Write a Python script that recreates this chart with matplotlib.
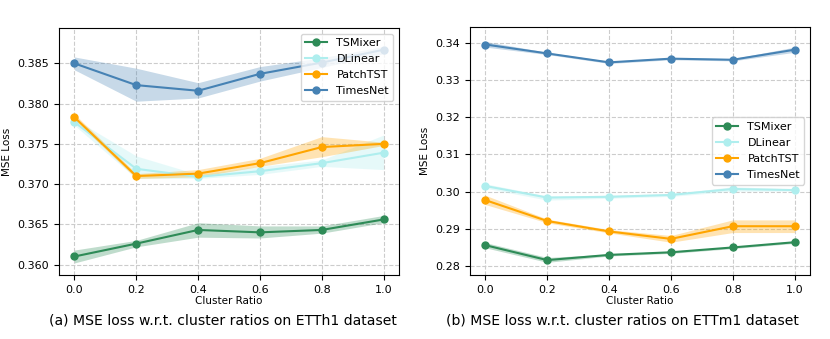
import matplotlib
matplotlib.use("Agg")
import matplotlib.pyplot as plt
import numpy as np

ratios = [0.0, 0.2, 0.4, 0.6, 0.8, 1.0]
models = ["TSMixer", "DLinear", "PatchTST", "TimesNet"]
colors = ["#2e8b57", "#afeeee", "#ffa500", "#4682b4"]

# ETTh1
etth1_tsmixer = [0.3610, 0.3626, 0.3643, 0.3640, 0.3643, 0.3656]
etth1_tsmixer_lo = [0.3602, 0.3622, 0.3634, 0.3633, 0.3639, 0.3652]
etth1_tsmixer_hi = [0.3618, 0.3630, 0.3652, 0.3648, 0.3648, 0.3661]
etth1_dlinear = [0.3777, 0.3719, 0.3709, 0.3716, 0.3726, 0.3739]
etth1_dlinear_lo = [0.3773, 0.3707, 0.3707, 0.3712, 0.3722, 0.3718]
etth1_dlinear_hi = [0.3781, 0.3735, 0.3712, 0.3722, 0.3730, 0.3761]
etth1_patchtst = [0.3783, 0.3710, 0.3713, 0.3726, 0.3746, 0.3750]
etth1_patchtst_lo = [0.3780, 0.3707, 0.3709, 0.3722, 0.3734, 0.3748]
etth1_patchtst_hi = [0.3787, 0.3713, 0.3718, 0.3732, 0.3759, 0.3752]
etth1_timesnet = [0.3850, 0.3823, 0.3816, 0.3837, 0.3851, 0.3867]
etth1_timesnet_lo = [0.3842, 0.3803, 0.3807, 0.3828, 0.3845, 0.3862]
etth1_timesnet_hi = [0.3858, 0.3844, 0.3826, 0.3846, 0.3857, 0.3871]

# ETTm1
ettm1_tsmixer = [0.2856, 0.2816, 0.2830, 0.2837, 0.2850, 0.2864]
ettm1_tsmixer_lo = [0.2849, 0.2810, 0.2827, 0.2834, 0.2847, 0.2861]
ettm1_tsmixer_hi = [0.2863, 0.2823, 0.2832, 0.2840, 0.2852, 0.2867]
ettm1_dlinear = [0.3015, 0.2984, 0.2986, 0.2991, 0.3007, 0.3004]
ettm1_dlinear_lo = [0.3009, 0.2977, 0.2982, 0.2987, 0.3001, 0.3001]
ettm1_dlinear_hi = [0.3021, 0.2988, 0.2990, 0.2994, 0.3013, 0.3007]
ettm1_patchtst = [0.2977, 0.2921, 0.2893, 0.2873, 0.2907, 0.2907]
ettm1_patchtst_lo = [0.2965, 0.2916, 0.2889, 0.2864, 0.2890, 0.2890]
ettm1_patchtst_hi = [0.2990, 0.2926, 0.2898, 0.2882, 0.2924, 0.2924]
ettm1_timesnet = [0.3395, 0.3371, 0.3347, 0.3357, 0.3354, 0.3381]
ettm1_timesnet_lo = [0.3388, 0.3368, 0.3344, 0.3354, 0.3351, 0.3374]
ettm1_timesnet_hi = [0.3403, 0.3374, 0.3350, 0.3360, 0.3357, 0.3388]

captions = ["(a) MSE loss w.r.t. cluster ratios on ETTh1 dataset",
            "(b) MSE loss w.r.t. cluster ratios on ETTm1 dataset"]

panels = [
    dict(series=[(etth1_tsmixer, etth1_tsmixer_lo, etth1_tsmixer_hi),
                 (etth1_dlinear, etth1_dlinear_lo, etth1_dlinear_hi),
                 (etth1_patchtst, etth1_patchtst_lo, etth1_patchtst_hi),
                 (etth1_timesnet, etth1_timesnet_lo, etth1_timesnet_hi)],
         ylim=(0.3587, 0.3894), yticks=[0.360, 0.365, 0.370, 0.375, 0.380, 0.385],
         fmt="{:.3f}", legend_loc="upper right", rect=[59/830, 1-275/339, 340/830, 247/339],
         cap_x=223/830),
    dict(series=[(ettm1_tsmixer, ettm1_tsmixer_lo, ettm1_tsmixer_hi),
                 (ettm1_dlinear, ettm1_dlinear_lo, ettm1_dlinear_hi),
                 (ettm1_patchtst, ettm1_patchtst_lo, ettm1_patchtst_hi),
                 (ettm1_timesnet, ettm1_timesnet_lo, ettm1_timesnet_hi)],
         ylim=(0.2776, 0.3442), yticks=[0.28, 0.29, 0.30, 0.31, 0.32, 0.33, 0.34],
         fmt="{:.2f}", legend_loc="center right", rect=[470/830, 1-275/339, 340/830, 248/339],
         cap_x=622/830),
]

fig = plt.figure(figsize=(8.3, 3.39), dpi=100)
for i, p in enumerate(panels):
    ax = fig.add_axes(p["rect"])
    for name, col, (m, lo, hi) in zip(models, colors, p["series"]):
        ax.fill_between(ratios, lo, hi, color=col, alpha=0.3, linewidth=0)
        ax.plot(ratios, m, marker="o", color=col, label=name, linewidth=1.5, markersize=5)
    ax.set_ylim(*p["ylim"])
    ax.set_yticks(p["yticks"])
    ax.set_yticklabels([p["fmt"].format(v) for v in p["yticks"]])
    ax.set_xticks(ratios)
    ax.set_xticklabels([f"{r:.1f}" for r in ratios])
    ax.tick_params(labelsize=8)
    ax.grid(True, linestyle="--", color="#cccccc", linewidth=0.8)
    ax.set_axisbelow(True)
    ax.set_xlabel("Cluster Ratio", fontsize=7.5, labelpad=1)
    ax.set_ylabel("MSE Loss", fontsize=7.5)
    ax.legend(loc=p["legend_loc"], fontsize=8, framealpha=0.8, labelspacing=0.55)
    fig.text(p["cap_x"], 1 - 321/339, captions[i], ha="center", va="center",
             fontsize=10.1, family="Liberation Sans Narrow")

fig.savefig("out.png", dpi=100)
